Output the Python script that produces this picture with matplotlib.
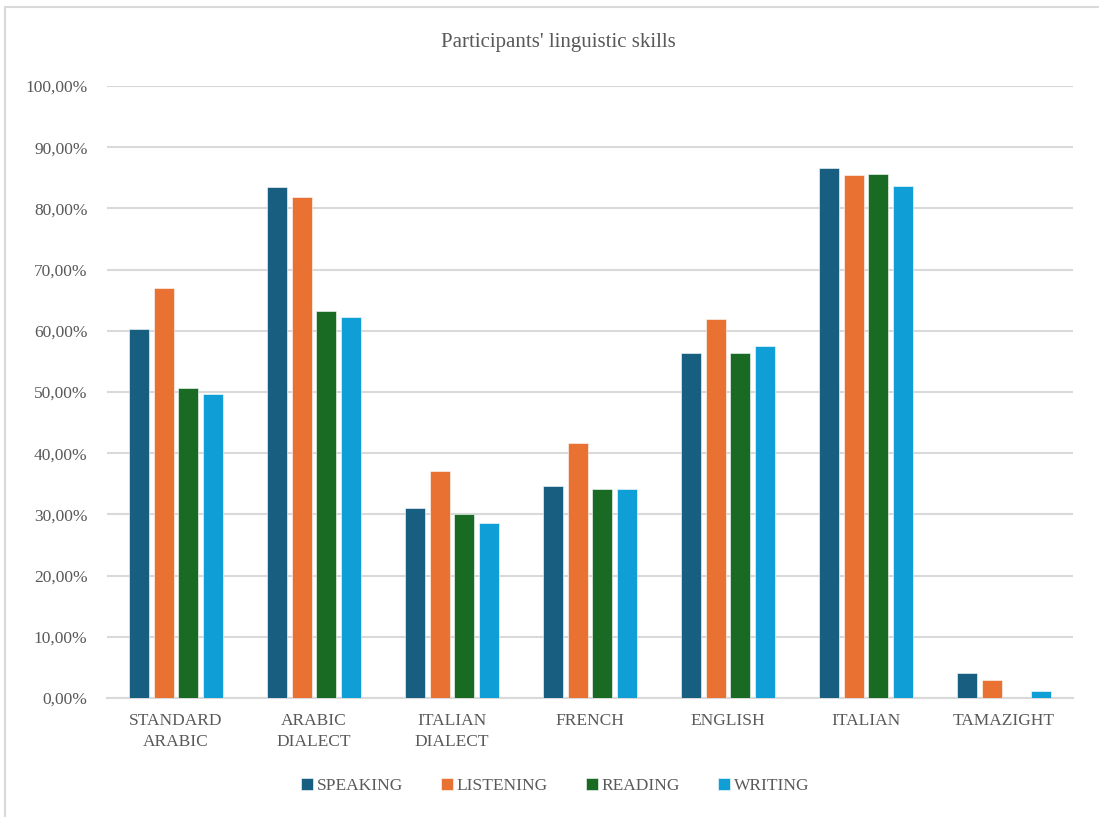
import matplotlib
matplotlib.use('Agg')
import matplotlib.pyplot as plt
import numpy as np
from matplotlib.ticker import FuncFormatter
from matplotlib.patches import Rectangle

# values (percent)
languages = ['STANDARD\nARABIC', 'ARABIC\nDIALECT', 'ITALIAN\nDIALECT', 'FRENCH',
             'ENGLISH', 'ITALIAN', 'TAMAZIGHT']
speaking = [60.3, 83.5, 31.0, 34.6, 56.3, 86.6, 4.1]
listening = [67.0, 81.8, 37.1, 41.7, 62.0, 85.5, 2.9]
reading = [50.7, 63.3, 30.1, 34.2, 56.3, 85.7, 0.0]
writing = [49.7, 62.3, 28.6, 34.1, 57.5, 83.7, 1.1]

series = [('SPEAKING', speaking, '#175e81'),
          ('LISTENING', listening, '#e97132'),
          ('READING', reading, '#196b24'),
          ('WRITING', writing, '#0f9ed5')]

plt.rcParams['font.family'] = ['Liberation Serif', 'DejaVu Serif']
text_col = '#595959'

fig = plt.figure(figsize=(10.99, 8.17), dpi=100)
ax = fig.add_axes([107 / 1099, 1 - 698 / 817, 966 / 1099, 612 / 817])

# light outer frame like the office chart border
fig.patches.append(Rectangle((5 / 1099, -0.01), 1.02, 1 - 7 / 817 + 0.01,
                             transform=fig.transFigure, fill=False,
                             edgecolor='#d9d9d9', lw=1.5))

x = np.arange(len(languages))
width = 0.145
step = 0.181
for i, (name, vals, col) in enumerate(series):
    ax.bar(x + (i - 1.5) * step, vals, width, color=col, label=name,
           edgecolor='white', linewidth=0.4, zorder=3)

ax.set_xlim(-0.5, len(languages) - 0.5)
ax.set_ylim(0, 100)
ax.set_yticks(np.arange(0, 101, 10))
ax.yaxis.set_major_formatter(FuncFormatter(lambda v, p: f'{v:.2f}%'.replace('.', ',')))
ax.grid(axis='y', color='#d9d9d9', lw=1.5, zorder=0)
ax.set_axisbelow(True)
for s in ['top', 'right', 'left']:
    ax.spines[s].set_visible(False)
ax.spines['bottom'].set_color('#d9d9d9')
ax.spines['bottom'].set_linewidth(1.5)
ax.tick_params(length=0, labelsize=12.5, labelcolor=text_col)
ax.tick_params(axis='y', pad=14)
ax.tick_params(axis='x', pad=11)
ax.set_xticks(x)
ax.set_xticklabels(languages, linespacing=1.4)

fig.text(558 / 1099, 1 - 42 / 817, "Participants' linguistic skills",
         ha='center', va='center', fontsize=15, color=text_col)

leg = ax.legend(loc='center', bbox_to_anchor=(555 / 1099, 1 - 786 / 817),
                bbox_transform=fig.transFigure, ncol=4, frameon=False,
                fontsize=12.5, handlelength=0.7, handleheight=0.7,
                handletextpad=0.2, columnspacing=2.2)
for t in leg.get_texts():
    t.set_color(text_col)

fig.savefig('out.png', dpi=100)
